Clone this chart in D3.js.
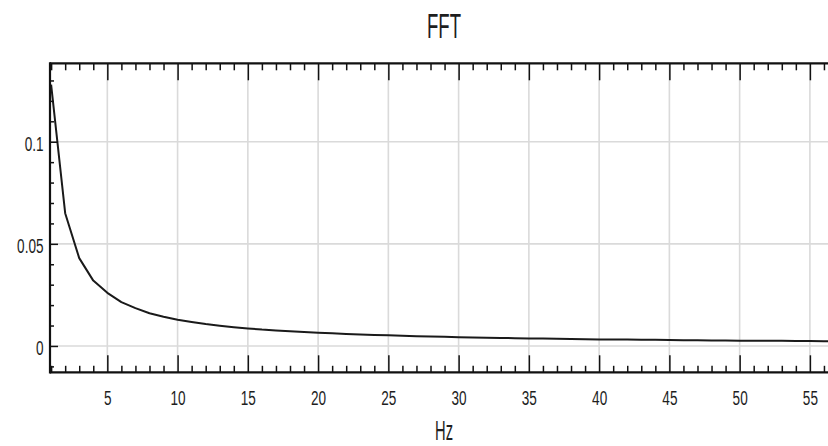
<!DOCTYPE html>
<html><head><meta charset="utf-8">
<script src="https://cdn.jsdelivr.net/npm/d3@7"></script>
<style>body{margin:0;background:#fff;overflow:hidden} svg{display:block}</style>
</head><body>
<svg id="c" width="828" height="446"></svg>
<script>
// Data (amplitude per 1 Hz bin)
const freqHz = [1,2,3,4,5,6,7,8,9,10,11,12,13,14,15,16,17,18,19,20,21,22,23,24,25,26,27,28,29,30,31,32,33,34,35,36,37,38,39,40,41,42,43,44,45,46,47,48,49,50,51,52,53,54,55,56,57];
const amplitude = [0.128,0.065,0.043,0.032,0.026,0.0215,0.0185,0.016,0.0143,0.0128,0.0117,0.0107,0.0099,0.0092,0.0086,0.0080,0.0076,0.0072,0.0068,0.0065,0.0062,0.0059,0.0056,0.0054,0.0052,0.0050,0.0048,0.0046,0.0045,0.0043,0.0042,0.0040,0.0039,0.0038,0.0037,0.0036,0.0035,0.0034,0.0033,0.0032,0.0032,0.0031,0.0030,0.0030,0.0029,0.0028,0.0028,0.0027,0.0027,0.0026,0.0026,0.0025,0.0025,0.0024,0.0024,0.0023,0.0023];
const xMajorTicks = [5,10,15,20,25,30,35,40,45,50,55];
const xMinorTicks = [1,2,3,4,6,7,8,9,11,12,13,14,16,17,18,19,21,22,23,24,26,27,28,29,31,32,33,34,36,37,38,39,41,42,43,44,46,47,48,49,51,52,53,54,56,57];
const yMajorTicks = [0,0.05,0.1];
const yTickLabels = ["0","0.05","0.1"];
const yMinorTicks = [-0.01,0.01,0.02,0.03,0.04,0.06,0.07,0.08,0.09,0.11,0.12,0.13];
const titleText = "FFT";
const xLabel = "Hz";

const svg = d3.select("#c");
const L = 50, T = 63.3, B = 372.3, R = 838;
const x = d3.scaleLinear().domain([0.92, 57]).range([L, R]);
const y = d3.scaleLinear().domain([-0.0129, 0.1384]).range([B, T]);

svg.append("defs").append("clipPath").attr("id","clip")
  .append("rect").attr("x",L).attr("y",T).attr("width",R-L).attr("height",B-T);

// grid
const grid = svg.append("g").attr("stroke","#dadada").attr("stroke-width",1.6);
grid.selectAll(".gx").data(xMajorTicks).join("line")
  .attr("x1",d=>x(d)).attr("x2",d=>x(d)).attr("y1",T).attr("y2",B);
grid.selectAll(".gy").data(yMajorTicks).join("line")
  .attr("y1",d=>y(d)).attr("y2",d=>y(d)).attr("x1",L).attr("x2",R);

// curve
const line = d3.line().x((d,i)=>x(freqHz[i])).y(d=>y(d));
svg.append("path").datum(amplitude)
  .attr("clip-path","url(#clip)")
  .attr("fill","none").attr("stroke","#1a1a1a").attr("stroke-width",2)
  .attr("stroke-linejoin","round")
  .attr("d",line);

const font = "'Liberation Sans', Arial, sans-serif";
function styleAxis(g){
  g.select(".domain").remove();
  g.selectAll(".tick line").attr("stroke","#111").attr("stroke-width",1.5);
}

// bottom axis
const gb = svg.append("g").attr("transform",`translate(0,${B})`);
gb.append("g").call(d3.axisBottom(x).tickValues(xMinorTicks).tickSize(-6.5).tickFormat("")).call(styleAxis);
const gbM = gb.append("g").call(d3.axisBottom(x).tickValues(xMajorTicks).tickSize(-17).tickFormat(d3.format("d"))).call(styleAxis);
gbM.selectAll(".tick text")
  .attr("y",null).attr("dy",null)
  .attr("transform","translate(0,33) scale(0.97,1.5)")
  .attr("font-family",font).attr("font-size",14).attr("fill","#1e1e1e").attr("text-anchor","middle");

// top axis
const gt = svg.append("g").attr("transform",`translate(0,${T})`);
gt.append("g").call(d3.axisTop(x).tickValues(xMinorTicks).tickSize(-7).tickFormat("")).call(styleAxis);
gt.append("g").call(d3.axisTop(x).tickValues(xMajorTicks).tickSize(-17).tickFormat("")).call(styleAxis);

// left axis
const gl = svg.append("g").attr("transform",`translate(${L},0)`);
gl.append("g").call(d3.axisLeft(y).tickValues(yMinorTicks).tickSize(-4).tickFormat("")).call(styleAxis);
const glM = gl.append("g").call(d3.axisLeft(y).tickValues(yMajorTicks).tickSize(-8)
  .tickFormat((d,i)=>yTickLabels[i])).call(styleAxis);
glM.selectAll(".tick text")
  .attr("x",null).attr("dy",null)
  .attr("transform","translate(-6.5,8.5) scale(0.97,1.5)")
  .attr("font-family",font).attr("font-size",14).attr("fill","#1e1e1e").attr("text-anchor","end");

// frame
const frame = svg.append("g").attr("stroke","#111").attr("stroke-width",2.2);
frame.append("line").attr("x1",L).attr("x2",R).attr("y1",T).attr("y2",T);
frame.append("line").attr("x1",L).attr("x2",R).attr("y1",B).attr("y2",B);
frame.append("line").attr("x1",L).attr("x2",L).attr("y1",T-1.1).attr("y2",B+1.1);

// title and x label
svg.append("text").text(titleText)
  .attr("transform","translate(444,38) scale(1.03,1.9)")
  .attr("text-anchor","middle").attr("font-family",font).attr("font-size",18).attr("fill","#1e1e1e");
svg.append("text").text(xLabel)
  .attr("transform","translate(444,440) scale(1.05,1.95)")
  .attr("text-anchor","middle").attr("font-family",font).attr("font-size",14).attr("fill","#1e1e1e");
</script>
</body></html>
